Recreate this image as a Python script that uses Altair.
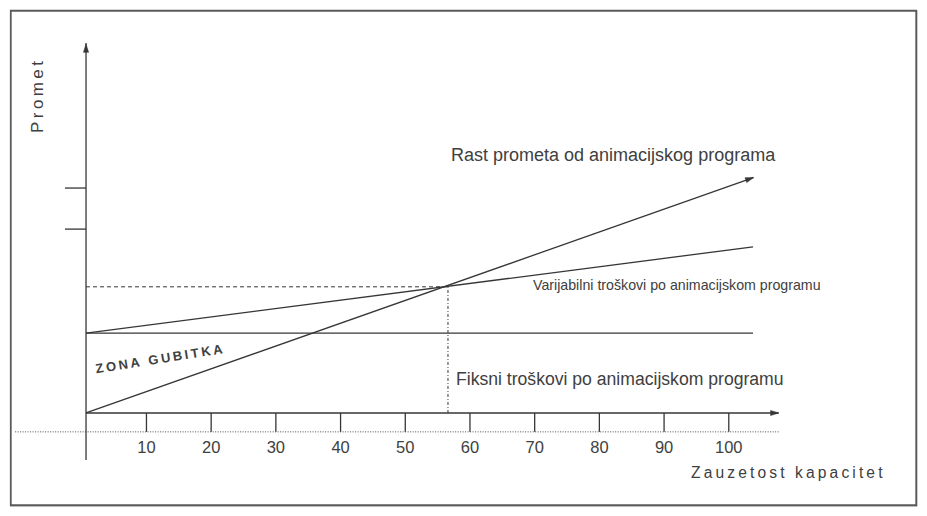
import altair as alt
import pandas as pd

# ---------------- data ----------------
# x axis: capacity utilisation (%), y axis: turnover (arbitrary units)
x_ticks = [10, 20, 30, 40, 50, 60, 70, 80, 90, 100]
x_tick_labels = ["10", "20", "30", "40", "50", "60", "70", "80", "90", "100"]
y_ticks = [49.7, 60.8]

axis_x0 = 0.66          # where the vertical axis stands
axis_x_end = 107.7      # end of the horizontal axis arrow
axis_y_top = 100.0      # end of the vertical axis arrow
axis_y_bottom = -12.7   # vertical axis sticks out below the x axis
baseline_dotted_y = -5.1
baseline_dotted_x0 = -10.3

revenue_x = [0.66, 103.8]
revenue_y = [0.0, 63.6]
variable_x = [0.66, 103.75]
variable_y = [21.6, 44.9]
fixed_x = [0.66, 103.75]
fixed_y = [21.6, 21.6]
breakeven_x = 56.6
breakeven_y = 34.1

label_text = [
    "Rast prometa od animacijskog programa",
    "Varijabilni troškovi po animacijskom programu",
    "Fiksni troškovi po animacijskom programu",
]
label_x = [57.07, 69.74, 57.84]
label_y = [68.1, 33.24, 7.57]
label_size = [18, 14.2, 17.6]

TS = "\u2009"
y_title = TS.join("Promet")
x_title = TS.join("Zauzetost kapacitet")
zone_text = TS.join("ZONA GUBITKA")

# ---------------- scales ----------------
PAD = 2
W, H = 907, 496
x_domain = [-11.09, 129.09]
y_domain = [-25.14, 108.92]
xs = alt.Scale(domain=x_domain, nice=False, zero=False)
ys = alt.Scale(domain=y_domain, nice=False, zero=False)
LINE = "#363636"
TEXT = "#404040"
FONT = "Liberation Sans"
ARROW = "M0,-1L0.62,1L-0.62,1Z"


def X(f="x"):
    return alt.X(f"{f}:Q", scale=xs, axis=None)


def Y(f="y"):
    return alt.Y(f"{f}:Q", scale=ys, axis=None)


# outer frame of the figure (just inside the plotting rectangle)
frame = pd.DataFrame(
    [dict(x=x_domain[0] + 0.12, x2=x_domain[1] - 0.12,
          y=y_domain[0] + 0.2, y2=y_domain[1] - 0.2)]
)
frame_layer = alt.Chart(frame).mark_rect(
    fill="white", stroke="#5a5a5a", strokeWidth=1.8
).encode(x=X(), y=Y(), x2="x2:Q", y2="y2:Q")

# solid segments
solid = pd.DataFrame(
    [
        dict(x=revenue_x[0], y=revenue_y[0], x2=revenue_x[1], y2=revenue_y[1]),
        dict(x=variable_x[0], y=variable_y[0], x2=variable_x[1], y2=variable_y[1]),
        dict(x=fixed_x[0], y=fixed_y[0], x2=fixed_x[1], y2=fixed_y[1]),
        dict(x=axis_x0, y=0, x2=axis_x_end, y2=0),
        dict(x=axis_x0, y=axis_y_bottom, x2=axis_x0, y2=axis_y_top),
    ]
    + [dict(x=t, y=0, x2=t, y2=baseline_dotted_y) for t in x_ticks]
    + [dict(x=-2.6, y=t, x2=axis_x0, y2=t) for t in y_ticks]
)
solid_layer = alt.Chart(solid).mark_rule(color=LINE, strokeWidth=1.3).encode(
    x=X(), y=Y(), x2="x2:Q", y2="y2:Q"
)

dashed = pd.DataFrame([dict(x=axis_x0, y=breakeven_y, x2=breakeven_x, y2=breakeven_y)])
dashed_layer = alt.Chart(dashed).mark_rule(
    color=LINE, strokeWidth=1, strokeDash=[4, 3]
).encode(x=X(), y=Y(), x2="x2:Q", y2="y2:Q")

dashdot = pd.DataFrame([dict(x=breakeven_x, y=0, x2=breakeven_x, y2=breakeven_y)])
dashdot_layer = alt.Chart(dashdot).mark_rule(
    color=LINE, strokeWidth=1, strokeDash=[3, 2, 1, 2]
).encode(x=X(), y=Y(), x2="x2:Q", y2="y2:Q")

dotted = pd.DataFrame(
    [dict(x=baseline_dotted_x0, y=baseline_dotted_y, x2=axis_x_end, y2=baseline_dotted_y)]
)
dotted_layer = alt.Chart(dotted).mark_rule(
    color="#505050", strokeWidth=1, strokeDash=[1, 1.5]
).encode(x=X(), y=Y(), x2="x2:Q", y2="y2:Q")


# arrow heads
def arrow(x, y, ang):
    return alt.Chart(pd.DataFrame({"x": [x], "y": [y]})).mark_point(
        shape=ARROW, filled=True, fill=LINE, stroke=LINE, strokeWidth=0.5,
        size=70, opacity=1, angle=ang
    ).encode(x=X(), y=Y())


arrow_layers = [
    arrow(axis_x0, 98.6, 0),
    arrow(107.1, 0, 90),
    arrow(103.25, 63.3, 70.6),
]

# tick labels
ticklab = pd.DataFrame({"x": x_ticks, "t": x_tick_labels, "y": [-10.9] * len(x_ticks)})
ticklab_layer = alt.Chart(ticklab).mark_text(
    font=FONT, fontSize=16.5, color=TEXT, align="center", baseline="alphabetic"
).encode(x=X(), y=Y(), text="t:N")

# annotations
ann = pd.DataFrame({"x": label_x, "y": label_y, "t": label_text, "s": label_size})
ann_layer = alt.Chart(ann).mark_text(
    font=FONT, color=TEXT, align="left", baseline="alphabetic"
).encode(x=X(), y=Y(), text="t:N", size=alt.Size("s:Q", scale=None, legend=None))

ytitle_layer = alt.Chart(pd.DataFrame({"x": [-6.76], "y": [85.4], "t": [y_title]})).mark_text(
    font=FONT, fontSize=17, color=TEXT, angle=270, align="center", baseline="middle"
).encode(x=X(), y=Y(), text="t:N")

xtitle_layer = alt.Chart(pd.DataFrame({"x": [94.17], "y": [-17.57], "t": [x_title]})).mark_text(
    font=FONT, fontSize=15.6, color=TEXT, align="left", baseline="alphabetic"
).encode(x=X(), y=Y(), text="t:N")

zone_layer = alt.Chart(pd.DataFrame({"x": [11.94], "y": [14.5], "t": [zone_text]})).mark_text(
    font=FONT, fontSize=13, fontWeight="bold", color=TEXT, angle=351,
    align="center", baseline="middle"
).encode(x=X(), y=Y(), text="t:N")

chart = (
    alt.layer(
        frame_layer,
        dotted_layer,
        dashed_layer,
        dashdot_layer,
        solid_layer,
        *arrow_layers,
        ticklab_layer,
        ann_layer,
        ytitle_layer,
        xtitle_layer,
        zone_layer,
    )
    .properties(width=W, height=H, autosize=alt.AutoSizeParams(type="none"), padding=PAD)
    .configure_view(strokeWidth=0)
    .configure(background="white")
)

chart.save("out.html", embed_options={"renderer": "svg", "actions": False})
